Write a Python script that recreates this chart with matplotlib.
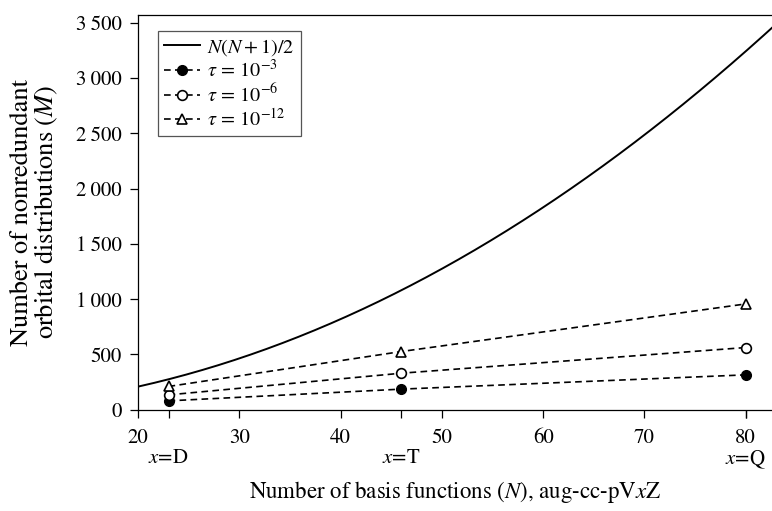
import numpy as np
import matplotlib
matplotlib.use("Agg")
import matplotlib.pyplot as plt
from matplotlib.ticker import FuncFormatter, FixedLocator

plt.rcParams["font.family"] = ["STIXGeneral", "DejaVu Serif"]
plt.rcParams["mathtext.fontset"] = "stix"

# basis set sizes for aug-cc-pVxZ (x = D, T, Q)
basis_n = [23, 46, 80]
basis_names = ["D", "T", "Q"]

# nonredundant orbital distributions per threshold
m_tau3 = [81, 187, 316]
m_tau6 = [135, 331, 563]
m_tau12 = [211, 527, 957]

# full count N(N+1)/2
n_full = np.linspace(20, 83, 200)
m_full = n_full * (n_full + 1) / 2

fig = plt.figure(figsize=(7.72, 5.11), dpi=100)
ax = fig.add_axes([0.179, 0.198, 0.821, 0.773])

ax.plot(n_full, m_full, color="black", lw=1.4, label=r"$N(N+1)/2$")
dash = (0, (4, 2.6))
ax.plot(basis_n, m_tau3, color="black", lw=1.2, ls=dash, marker="o",
        ms=7, mfc="black", label=r"$\tau\,=\,10^{-3}$")
ax.plot(basis_n, m_tau6, color="black", lw=1.2, ls=dash, marker="o",
        ms=7, mfc="white", mew=1.2, label=r"$\tau\,=\,10^{-6}$")
ax.plot(basis_n, m_tau12, color="black", lw=1.2, ls=dash, marker="^",
        ms=6.5, mfc="white", mew=1.2, label=r"$\tau\,=\,10^{-12}$")

ax.set_xlim(20, 82.6)
ax.set_ylim(0, 3570)
ax.set_xticks(np.arange(20, 81, 10))
ax.set_yticks(np.arange(0, 3501, 500))
ax.yaxis.set_major_formatter(FuncFormatter(
    lambda v, p: "{:,}".format(int(v)).replace(",", "\u2009")))

# second row of labels under the basis set sizes
ax.xaxis.remove_overlapping_locs = False
ax.xaxis.set_minor_locator(FixedLocator(basis_n))
ax.set_xticklabels(["$x$=" + s for s in basis_names], minor=True)
ax.tick_params(which="both", direction="out", length=6, width=0.9,
               labelsize=15)
ax.tick_params(axis="x", which="major", pad=7)
ax.tick_params(axis="x", which="minor", pad=22)
ax.tick_params(axis="y", pad=6)

for s in ["top", "left", "bottom"]:
    ax.spines[s].set_linewidth(0.9)
ax.spines["right"].set_visible(False)

ax.set_xlabel(r"Number of basis functions ($N$), aug-cc-pV$x$Z",
              fontsize=16.5, labelpad=6)
ax.set_ylabel("Number of nonredundant\norbital distributions ($M$)",
              fontsize=19, labelpad=11, linespacing=0.95)

leg = ax.legend(loc="upper left", bbox_to_anchor=(0.015, 0.985),
                fontsize=14.5, handlelength=1.8, handletextpad=0.35,
                borderpad=0.3, labelspacing=0.08, fancybox=False,
                framealpha=1, edgecolor="#555555")
leg.get_frame().set_linewidth(0.9)

fig.savefig("out.png", dpi=100)
